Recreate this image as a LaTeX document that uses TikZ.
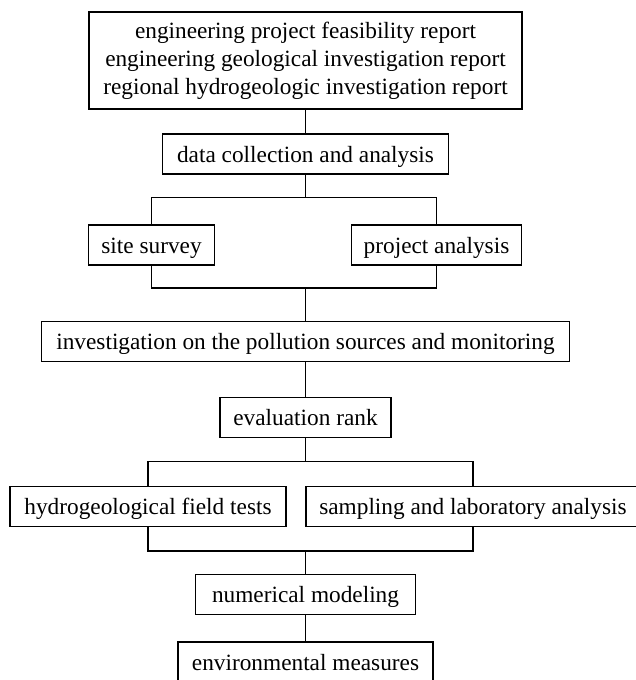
\documentclass[tikz,border=0pt]{standalone}
\usepackage{fontspec}
\setmainfont{Liberation Serif}
\usepackage{tikz}
\usetikzlibrary{positioning,calc}
\tikzstyle{box}=[draw, line width=1.3pt, minimum height=40pt, inner xsep=12pt, text height=18.5pt, text depth=2.5pt, font=\fontsize{23.3}{28}\selectfont]
\tikzstyle{report}=[draw, line width=1.3pt, minimum height=97pt, minimum width=433pt, align=center, font=\fontsize{23.3}{28}\selectfont]

\begin{document}
\begin{tikzpicture}[x=1pt,y=1pt,line width=1.3pt]
    \useasboundingbox (0,0) rectangle (636,-680);
    \node [report] (top) at (305.5,-60.5) {engineering project feasibility report\\engineering geological investigation report\\regional hydrogeologic investigation report};
    \node [box,minimum width=286pt] (data) [below of=top,node distance=93.5pt] {data collection and analysis};
    \node [box,minimum width=126pt] (site) [below of=data,node distance=91pt,xshift=-154pt] {site survey};
    \node [box,minimum width=170pt] (proj) [below of=data,node distance=91pt,xshift=131pt] {project analysis};
    \node [box,minimum width=528pt] (invest) [below of=data,node distance=187.5pt] {investigation on the pollution sources and monitoring};
    \node [box,minimum width=171pt] (eval) [below of=invest,node distance=76pt] {evaluation rank};
    \node [box,minimum width=276pt] (hydro) [below of=eval,node distance=89pt,xshift=-157.5pt] {hydrogeological field tests};
    \node [box,minimum width=334pt] (samp) [below of=eval,node distance=89pt,xshift=167.5pt] {sampling and laboratory analysis};
    \node [box,minimum width=220pt] (num) [below of=eval,node distance=177pt] {numerical modeling};
    \node [box,minimum width=255pt] (env) [below of=num,node distance=67.5pt] {environmental measures};
    % joints where the branches meet again
    \coordinate (join1) at ($(invest.north)+(0,33)$);
    \coordinate (join2) at ($(num.north)+(0,23)$);
    \draw (top) -- (data);
    \draw (data.south) -- ++(0,-23) -| (site.north);
    \draw (data.south) ++(0,-23) -| (proj.north);
    \draw (site.south) |- (join1) -| (proj.south);
    \draw (join1) -- (invest);
    \draw (invest) -- (eval);
    \draw (eval.south) -- ++(0,-23) -| (hydro.north);
    \draw (eval.south) ++(0,-23) -| (samp.north);
    \draw (hydro.south) |- (join2) -| (samp.south);
    \draw (join2) -- (num);
    \draw (num) -- (env);
\end{tikzpicture}
\end{document}
